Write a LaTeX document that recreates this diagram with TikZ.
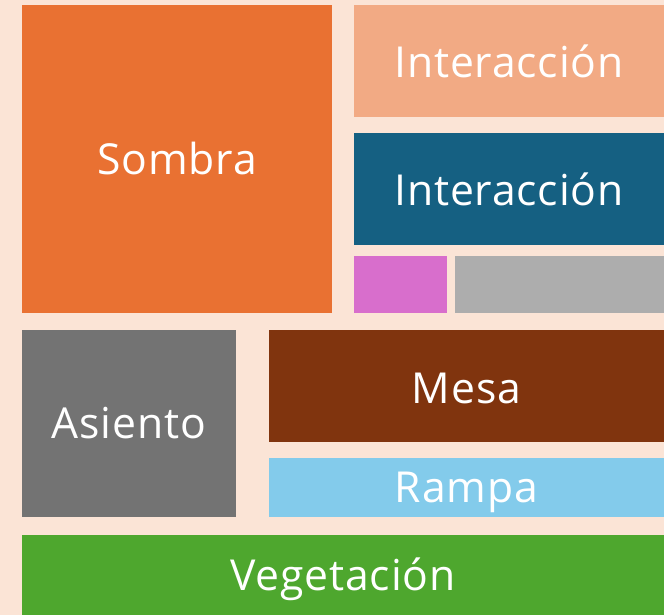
\documentclass[tikz,border=0pt]{standalone}
\usepackage{fontspec}
\setmainfont[LetterSpace=2]{Open Sans}
\definecolor{bg}{HTML}{FBE4D6}
\definecolor{corange}{HTML}{E97132}
\definecolor{clorange}{HTML}{F2AA84}
\definecolor{cteal}{HTML}{156082}
\definecolor{cmag}{HTML}{D86ECC}
\definecolor{cgray}{HTML}{ADADAD}
\definecolor{cdgray}{HTML}{737373}
\definecolor{cbrown}{HTML}{80340E}
\definecolor{clblue}{HTML}{83CBEB}
\definecolor{cgreen}{HTML}{4EA72E}
\tikzset{
  lbl/.style={text=white,font=\fontsize{32}{38}\selectfont,inner sep=0pt,anchor=base}
}
\begin{document}
\begin{tikzpicture}[x=0.75pt,y=-0.75pt]
\fill[bg] (0,0) rectangle (664,615);
\useasboundingbox (0,0) rectangle (664,615);
\fill[corange] (22,5) rectangle (332,312.5);
\fill[clorange] (354,5) rectangle (664,116.5);
\fill[cteal] (354,133) rectangle (664,245);
\fill[cmag] (354,256) rectangle (447,312.5);
\fill[cgray] (455,256) rectangle (664,312.5);
\fill[cdgray] (22,330) rectangle (236,517);
\fill[cbrown] (269,330) rectangle (664,442);
\fill[clblue] (269,458) rectangle (664,517);
\fill[cgreen] (22,535) rectangle (664,615);
\node[lbl] (sombra) at (177,174.5) {Sombra};
\node[lbl] (int1) at (509,77.5) {Interacción};
\node[lbl] (int2) at (509,205.5) {Interacción};
\node[lbl] (asiento) at (129,438.5) {Asiento};
\node[lbl] (mesa) at (466.5,403.5) {Mesa};
\node[lbl] (rampa) at (466.5,502.5) {Rampa};
\node[lbl] (veg) at (343,590.5) {Vegetación};
\end{tikzpicture}
\end{document}
